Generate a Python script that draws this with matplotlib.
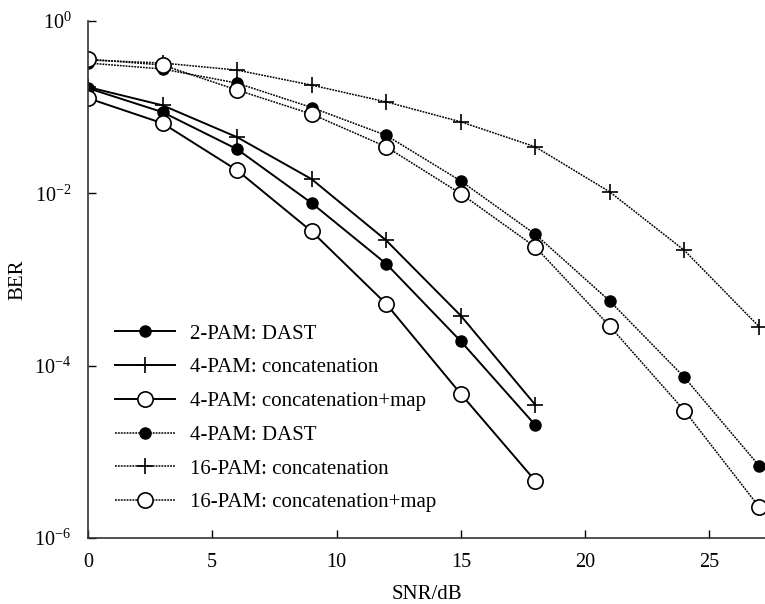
import numpy as np
import matplotlib
matplotlib.use('Agg')
import matplotlib.pyplot as plt

plt.rcParams['font.family'] = 'Liberation Serif'
plt.rcParams['mathtext.fontset'] = 'stix'

# SNR en dB
snr_short = [0, 3, 6, 9, 12, 15, 18]
snr_long = [0, 3, 6, 9, 12, 15, 18, 21, 24, 27]

# curvas continuas
ber_2pam_dast = [0.166, 0.0875, 0.0325, 0.0077, 0.00152, 1.92e-4, 2.04e-5]
ber_4pam_conc = [0.171, 0.105, 0.0448, 0.0146, 0.00284, 3.8e-4, 3.5e-5]
ber_4pam_map = [0.127, 0.065, 0.0185, 0.00361, 5.2e-4, 4.7e-5, 4.6e-6]

# curvas punteadas
ber_4pam_dast = [0.325, 0.277, 0.19, 0.099, 0.047, 0.0139, 0.00334, 5.6e-4, 7.3e-5, 6.9e-6]
ber_16pam_conc = [0.352, 0.325, 0.269, 0.18, 0.115, 0.0675, 0.0346, 0.01035, 0.00217, 2.84e-4]
ber_16pam_map = [0.361, 0.308, 0.158, 0.083, 0.0346, 0.0099, 0.00238, 2.86e-4, 3.0e-5, 2.3e-6]

labels = ['2-PAM: DAST', '4-PAM: concatenation', '4-PAM: concatenation+map',
          '4-PAM: DAST', '16-PAM: concatenation', '16-PAM: concatenation+map']

fig = plt.figure(figsize=(7.65, 6.04), dpi=100)
ax = fig.add_axes([0.115, 0.1093, 0.885, 0.856])

dot = (0, (1.2, 0.7))
lw = 1.4
lw_dot = 1.1
filled = dict(marker='o', ms=8, mfc='k', mec='k')
plus = dict(marker='+', ms=11, mew=1.2)
hollow = dict(marker='o', ms=11, mfc='white', mec='k', mew=1.2)

ax.semilogy(snr_short, ber_2pam_dast, '-', color='k', lw=lw, label=labels[0], **filled)
ax.semilogy(snr_short, ber_4pam_conc, '-', color='k', lw=lw, label=labels[1], **plus)
ax.semilogy(snr_short, ber_4pam_map, '-', color='k', lw=lw, label=labels[2], **hollow)
ax.semilogy(snr_long, ber_4pam_dast, linestyle=dot, color='k', lw=lw_dot, label=labels[3], **filled)
ax.semilogy(snr_long, ber_16pam_conc, linestyle=dot, color='k', lw=lw_dot, label=labels[4], **plus)
ax.semilogy(snr_long, ber_16pam_map, linestyle=dot, color='k', lw=lw_dot, label=labels[5], **hollow)

ax.set_xlim(0, 27.24)
ax.set_ylim(1e-6, 1)
ax.set_xticks([0, 5, 10, 15, 20, 25])
ax.set_yticks([1, 1e-2, 1e-4, 1e-6])
ax.yaxis.set_minor_locator(matplotlib.ticker.NullLocator())
ax.tick_params(direction='in', length=6, width=1, labelsize=14.5)
ax.tick_params(axis='x', pad=11)
ax.tick_params(axis='y', pad=12)
ax.spines['top'].set_visible(False)
ax.spines['right'].set_visible(False)
for s in ['left', 'bottom']:
    ax.spines[s].set_linewidth(1.2)
    ax.spines[s].set_color('#333333')

ax.set_xlabel('SNR/dB', fontsize=15, labelpad=9)
ax.set_ylabel('BER', fontsize=15)
ax.yaxis.set_label_coords(-0.09, 0.5)

ax.legend(loc='upper left', bbox_to_anchor=(0.012, 0.45), frameon=False, fontsize=15,
          handlelength=2.9, handletextpad=0.7, labelspacing=0.68)

fig.savefig('out.png', dpi=100)
